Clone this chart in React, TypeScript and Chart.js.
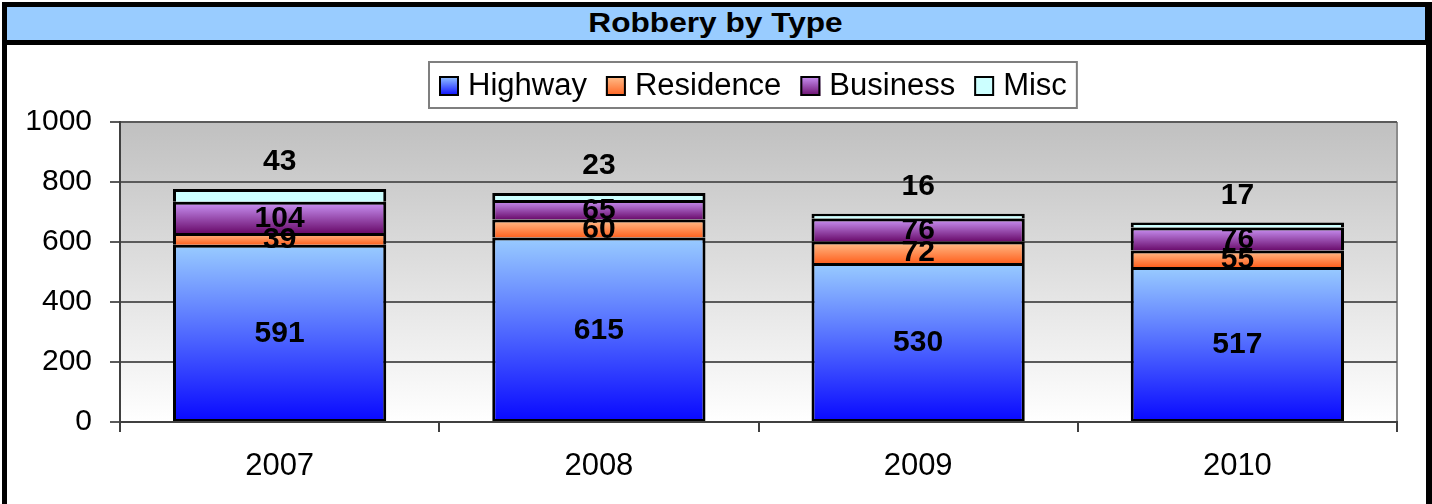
import React, { useEffect, useRef } from "react";
import { Chart, registerables } from "chart.js";

Chart.register(...registerables);

// ---- data ----
const chartTitle = "Robbery by Type";
const categories = ["2007", "2008", "2009", "2010"];
const seriesNames = ["Highway", "Residence", "Business", "Misc"];
const highway = [591, 615, 530, 517];
const residence = [39, 60, 72, 55];
const business = [104, 65, 76, 76];
const misc = [43, 23, 16, 17];
const yTicks = [0, 200, 400, 600, 800, 1000];

const seriesValues = [highway, residence, business, misc];

// ---- styles ----
const FONT = '"Liberation Sans", Arial, Helvetica, sans-serif';
const gradTop = ["#99CCFF", "#FFC08E", "#CC96F8", "#CCFFFF"];
const gradBottom = ["#0808FF", "#FF6220", "#6A0C6C", "#CCFFFF"];

function segGradient(ctx: any, d: number) {
  const chart = ctx.chart;
  const ys = chart.scales && chart.scales.y;
  if (ctx.type !== "data" || !ys || !chart.chartArea) return gradBottom[d];
  const i = ctx.dataIndex;
  let base = 0;
  for (let k = 0; k < d; k++) base += seriesValues[k][i];
  const end = base + seriesValues[d][i];
  const y0 = ys.getPixelForValue(end);
  const y1 = ys.getPixelForValue(base);
  const g = chart.ctx.createLinearGradient(0, y0, 0, y1 + 0.01);
  g.addColorStop(0, gradTop[d]);
  g.addColorStop(1, gradBottom[d]);
  return g;
}

const bgPlugin = {
  id: "plotBg",
  beforeDraw(chart: any) {
    const a = chart.chartArea;
    if (!a) return;
    const c = chart.ctx;
    c.save();
    const g = c.createLinearGradient(0, a.top, 0, a.bottom);
    g.addColorStop(0, "#C0C0C0");
    g.addColorStop(1, "#FFFFFF");
    c.fillStyle = g;
    c.fillRect(a.left, a.top, a.right - a.left, a.bottom - a.top);
    c.strokeStyle = "#8C8C8C";
    c.lineWidth = 2;
    c.beginPath();
    c.moveTo(a.right, a.top);
    c.lineTo(a.right, a.bottom);
    c.stroke();
    c.restore();
  },
};

const labelPlugin = {
  id: "segLabels",
  afterDatasetsDraw(chart: any) {
    const c = chart.ctx;
    c.save();
    c.font = `bold 30px ${FONT}`;
    c.fillStyle = "#000";
    c.textAlign = "center";
    c.textBaseline = "middle";
    chart.data.datasets.forEach((ds: any, di: number) => {
      const meta = chart.getDatasetMeta(di);
      meta.data.forEach((el: any, i: number) => {
        const p = el.getProps(["x", "y", "base"], true);
        const cy = di === 3 ? p.y - 28 : (p.y + p.base) / 2;
        c.fillText(String(ds.data[i]), p.x, cy + 1);
      });
    });
    c.restore();
  },
};

const legendPlugin = {
  id: "boxLegend",
  afterDraw(chart: any) {
    const c = chart.ctx;
    c.save();
    c.font = `31px ${FONT}`;
    const sq = 20;
    const padL = 10;
    const gapText = 9;
    const gapItem = 19;
    const padR = 10;
    const widths = seriesNames.map((n) => c.measureText(n).width);
    let total = padL + padR;
    widths.forEach((w, k) => {
      total += sq + gapText + w + (k < widths.length - 1 ? gapItem : 0);
    });
    const cx = 746;
    const left = Math.round(cx - total / 2);
    const top = 17;
    const h = 46;
    c.fillStyle = "#FFFFFF";
    c.fillRect(left, top, total, h);
    c.strokeStyle = "#7F7F7F";
    c.lineWidth = 2;
    c.strokeRect(left, top, total, h);
    let x = left + padL;
    const midY = top + h / 2;
    seriesNames.forEach((n, k) => {
      const sy = midY - sq / 2 + 1;
      const g = c.createLinearGradient(0, sy, 0, sy + sq);
      g.addColorStop(0, gradTop[k]);
      g.addColorStop(1, gradBottom[k]);
      c.fillStyle = g;
      c.fillRect(x, sy, sq, sq);
      c.strokeStyle = "#000";
      c.lineWidth = 2;
      c.strokeRect(x + 1, sy + 1, sq - 2, sq - 2);
      x += sq + gapText;
      c.fillStyle = "#000";
      c.textAlign = "left";
      c.textBaseline = "middle";
      c.fillText(n, x, midY + 1);
      x += widths[k] + gapItem;
    });
    c.restore();
  },
};

export default function App() {
  const ref = useRef<HTMLCanvasElement | null>(null);

  useEffect(() => {
    if (!ref.current) return;
    const datasets = seriesNames.map((name, d) => ({
      label: name,
      data: seriesValues[d],
      backgroundColor: (ctx: any) => segGradient(ctx, d),
      borderColor: "#000000",
      borderWidth: { top: 3, left: 3, right: 3, bottom: d === 0 ? 2 : 0 },
      borderSkipped: false,
      categoryPercentage: 1,
      barPercentage: 0.668,
    }));
    const chart = new Chart(ref.current, {
      type: "bar",
      data: { labels: categories, datasets },
      options: {
        animation: false,
        responsive: false,
        maintainAspectRatio: false,
        layout: { padding: { left: 0, right: 28, top: 77, bottom: 0 } },
        plugins: {
          legend: { display: false },
          title: { display: false },
          tooltip: { enabled: false },
        },
        scales: {
          x: {
            stacked: true,
            offset: true,
            grid: {
              offset: true,
              drawOnChartArea: false,
              drawTicks: true,
              tickLength: 10,
              color: "#404040",
              lineWidth: 2,
            },
            border: { display: true, color: "#404040", width: 2 },
            ticks: {
              color: "#000",
              font: { family: FONT, size: 31 },
              padding: 16,
            },
            afterFit: (s: any) => {
              s.height = 82;
            },
          },
          y: {
            stacked: true,
            min: yTicks[0],
            max: yTicks[yTicks.length - 1],
            afterBuildTicks: (s: any) => {
              s.ticks = yTicks.map((v) => ({ value: v }));
            },
            grid: {
              color: "#5A5A5A",
              lineWidth: 2,
              drawTicks: true,
              tickLength: 10,
            },
            border: { display: true, color: "#404040", width: 2 },
            ticks: {
              color: "#000",
              font: { family: FONT, size: 30 },
              padding: 18,
              callback: (v: any) => String(v),
            },
            afterFit: (s: any) => {
              s.width = 113;
            },
          },
        },
      },
      plugins: [bgPlugin, labelPlugin, legendPlugin],
    });
    return () => chart.destroy();
  }, []);

  return (
    <div
      style={{
        position: "fixed",
        left: 0,
        top: 0,
        width: 1432,
        height: 504,
        background: "#FFFFFF",
        overflow: "hidden",
      }}
    >
      <div
        style={{
          position: "absolute",
          left: 2,
          top: 2,
          width: 1430,
          height: 510,
          background: "#000000",
        }}
      />
      <div
        style={{
          position: "absolute",
          left: 7,
          top: 7,
          width: 1418,
          height: 33,
          background: "#99CCFF",
          display: "flex",
          alignItems: "center",
          justifyContent: "center",
          overflow: "hidden",
        }}
      >
        <span
          style={{
            fontFamily: FONT,
            fontWeight: "bold",
            fontSize: 28,
            lineHeight: "33px",
            display: "inline-block",
            transform: "scaleX(1.13) translateY(-1px)",
            color: "#000",
          }}
        >
          {chartTitle}
        </span>
      </div>
      <div
        style={{
          position: "absolute",
          left: 7,
          top: 45,
          width: 1419,
          height: 470,
          background: "#FFFFFF",
        }}
      >
        <canvas
          ref={ref}
          width={1418}
          height={459}
          style={{ display: "block", width: 1418, height: 459 }}
        />
      </div>
    </div>
  );
}
